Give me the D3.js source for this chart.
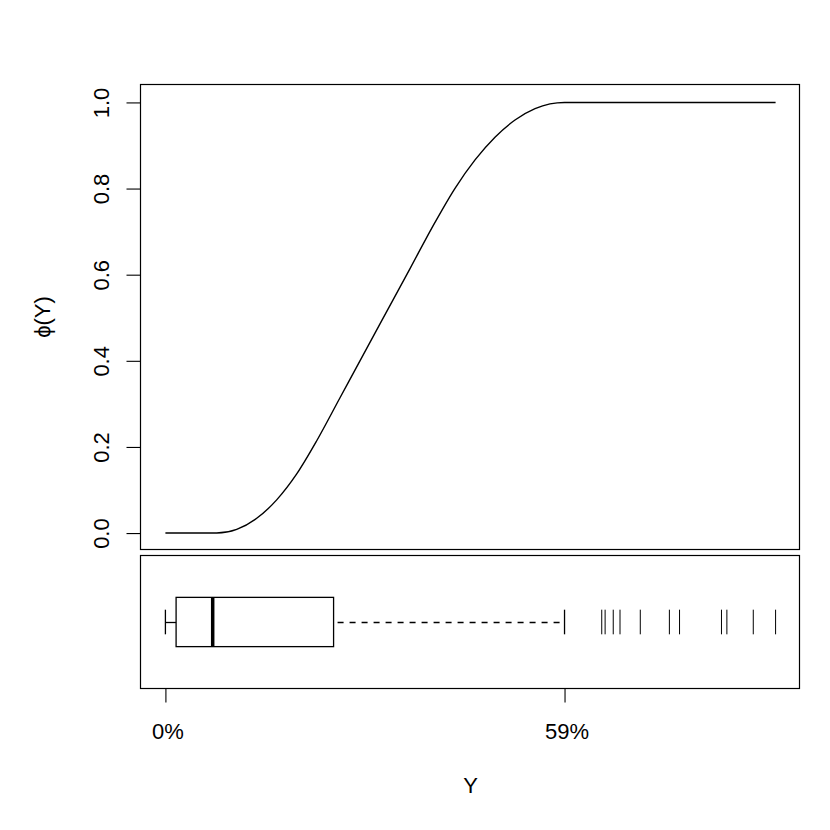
<!DOCTYPE html>
<html>
<head>
<meta charset="utf-8">
<script src="https://cdn.jsdelivr.net/npm/d3@7"></script>
<style>
  html, body { margin: 0; padding: 0; background: #fff; }
  text { font-family: "Liberation Sans", Arial, Helvetica, sans-serif; fill: #000; }
</style>
</head>
<body>
<svg id="chart" width="830" height="830"></svg>
<script>
// ---- data ----
const curveX = [0, 0.0758, 0.1054, 0.1350, 0.1645, 0.1941, 0.2237, 0.2581, 0.3172, 0.3616, 0.3985, 0.4281, 0.4577, 0.4872, 0.5168, 0.5464, 0.5685, 0.59, 0.902];
const curveY = [0, 0, 0.0086, 0.0343, 0.0771, 0.1373, 0.2144, 0.3142, 0.4856, 0.6142, 0.7215, 0.8007, 0.8667, 0.9194, 0.9591, 0.9854, 0.9965, 1.0, 1.0];
const boxStats = [0, 0.0158, 0.0699, 0.2486, 0.59]; // lower whisker, Q1, median, Q3, upper whisker
const outliers = [0.645, 0.650, 0.662, 0.672, 0.702, 0.745, 0.760, 0.822, 0.830, 0.869, 0.902];
const xTicks = [0, 0.59];
const xTickLabels = ["0%", "59%"];
const yTicks = [0, 0.2, 0.4, 0.6, 0.8, 1.0];
const yTickLabels = ["0.0", "0.2", "0.4", "0.6", "0.8", "1.0"];

// ---- layout ----
const svg = d3.select("#chart");
const L = 141, R = 800;
const topT = 84.5, topB = 549.5;
const botT = 555.5, botB = 688.5;
const fs = 22;

const xMin = 0, xMax = d3.max(curveX);
const pad = 0.04 * (xMax - xMin);
const x = d3.scaleLinear().domain([xMin - pad, xMax + pad]).range([L, R]);
const y = d3.scaleLinear().domain([-0.04, 1.04]).range([550.3, 85.2]);
const yb = d3.scaleLinear().domain([0.46, 1.54]).range([botB, botT]);

// panels
svg.append("rect").attr("x", L - 0.5).attr("y", topT).attr("width", R - L).attr("height", topB - topT)
  .attr("fill", "none").attr("stroke", "#000").attr("stroke-width", 1.2);
svg.append("rect").attr("x", L - 0.5).attr("y", botT).attr("width", R - L).attr("height", botB - botT)
  .attr("fill", "none").attr("stroke", "#000").attr("stroke-width", 1.2);

// curve
const pts = curveX.map((v, i) => [v, curveY[i]]);
svg.append("path").datum(pts)
  .attr("d", d3.line().x(d => x(d[0])).y(d => y(d[1])).curve(d3.curveMonotoneX))
  .attr("fill", "none").attr("stroke", "#000").attr("stroke-width", 1.4);

// y axis
const yAxisG = svg.append("g").attr("transform", `translate(${L - 0.5},0)`);
yAxisG.call(d3.axisLeft(y).tickValues(yTicks).tickSize(14).tickFormat((d, i) => yTickLabels[i]));
yAxisG.select(".domain").remove();
yAxisG.selectAll(".tick line").attr("stroke", "#000").attr("stroke-width", 1.1);
yAxisG.selectAll(".tick text").remove();
yAxisG.selectAll(".tick").append("text")
  .attr("transform", "translate(-32,0) rotate(-90)")
  .attr("text-anchor", "middle")
  .attr("font-size", fs)
  .text((d, i) => yTickLabels[i]);

// x axis
const xAxisG = svg.append("g").attr("transform", `translate(0,${botB})`);
xAxisG.call(d3.axisBottom(x).tickValues(xTicks).tickSize(14).tickFormat((d, i) => xTickLabels[i]));
xAxisG.select(".domain").remove();
xAxisG.selectAll(".tick line").attr("stroke", "#000").attr("stroke-width", 1.1);
xAxisG.selectAll(".tick text").remove();
xAxisG.selectAll(".tick").append("text")
  .attr("x", 2).attr("y", 50)
  .attr("text-anchor", "middle")
  .attr("font-size", fs)
  .text((d, i) => xTickLabels[i]);

// axis titles
svg.append("text").attr("x", (L + R) / 2).attr("y", 793)
  .attr("text-anchor", "middle").attr("font-size", fs).text("Y");
svg.append("text").attr("transform", `translate(50,${(topT + topB) / 2}) rotate(-90)`)
  .attr("text-anchor", "middle").attr("font-size", fs).text("ϕ(Y)");

// boxplot
const [wLo, q1, med, q3, wHi] = boxStats;
const cy = Math.round(yb(1)) + 0.5;
const bp = svg.append("g");
bp.append("rect").attr("x", x(q1)).attr("y", yb(1.2)).attr("width", x(q3) - x(q1)).attr("height", yb(0.8) - yb(1.2))
  .attr("fill", "none").attr("stroke", "#000").attr("stroke-width", 1.3);
bp.append("line").attr("x1", x(med)).attr("x2", x(med)).attr("y1", yb(1.2)).attr("y2", yb(0.8))
  .attr("stroke", "#000").attr("stroke-width", 3.5);
// whiskers
bp.append("line").attr("x1", x(q3) + 4).attr("x2", x(wHi)).attr("y1", cy).attr("y2", cy)
  .attr("stroke", "#000").attr("stroke-width", 1.3).attr("stroke-dasharray", "6,6");
bp.append("line").attr("x1", x(wLo)).attr("x2", x(q1)).attr("y1", cy).attr("y2", cy)
  .attr("stroke", "#000").attr("stroke-width", 1.3);
// staples
[wLo, wHi].forEach(v => {
  bp.append("line").attr("x1", x(v)).attr("x2", x(v)).attr("y1", yb(1.1)).attr("y2", yb(0.9))
    .attr("stroke", "#000").attr("stroke-width", 1.3);
});
// outliers
bp.selectAll(".out").data(outliers).enter().append("line").attr("class", "out")
  .attr("x1", d => x(d)).attr("x2", d => x(d)).attr("y1", yb(1.1)).attr("y2", yb(0.9))
  .attr("stroke", "#000").attr("stroke-width", 1);
</script>
</body>
</html>
